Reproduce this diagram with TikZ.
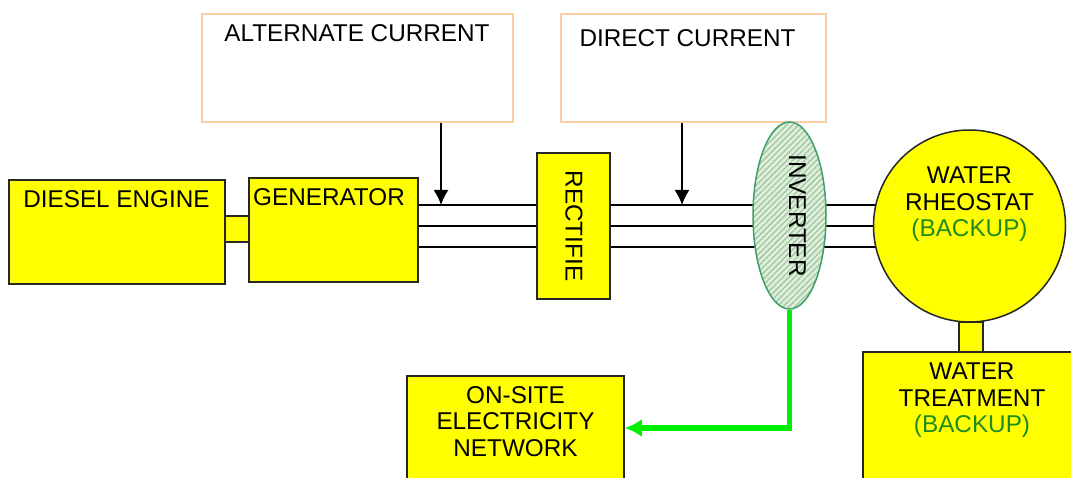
\documentclass[tikz,border=0pt]{standalone}
\usepackage{fontspec}
\setmainfont{Liberation Sans}
\usetikzlibrary{arrows.meta, positioning, calc, shapes.geometric, patterns.meta, backgrounds}

\definecolor{boxyellow}{HTML}{FFFF00}
\definecolor{peach}{HTML}{FBCFA6}
\definecolor{backupgreen}{HTML}{1E8C1E}
\definecolor{invgreen}{HTML}{3F9E6E}
\definecolor{invfill}{HTML}{D8F2D4}
\definecolor{hatchgray}{HTML}{A8B8A8}
\definecolor{linkgreen}{HTML}{00F000}

\tikzset{
    unit/.style={draw=black!85, line width=1.5pt, fill=boxyellow, inner sep=0pt},
    infobox/.style={draw=peach, line width=1.5pt, inner sep=0pt},
    lbl/.style={font=\fontsize{24.3}{26.5}\selectfont, align=center, inner sep=0pt},
    wire/.style={black, line width=1.5pt},
}

\begin{document}
\begin{tikzpicture}[x=1pt, y=-1pt, >={Latex[length=15pt, width=15pt]}]
    \useasboundingbox (0, 0) rectangle (1071, 478);

    % caixas de legenda
    \node[infobox, minimum width=311, minimum height=108] (acbox) at (357.5, 68) {};
    \node[infobox, minimum width=265, minimum height=108] (dcbox) at (693.5, 68) {};
    \node[lbl] (actext) at (357, 33) {ALTERNATE CURRENT};
    \node[lbl] (dctext) at (687.5, 38.5) {DIRECT CURRENT};

    % grupo diesel
    \node[unit, minimum width=24, minimum height=26] (shaft) at (237, 229) {};
    \node[unit, minimum width=216, minimum height=104] (diesel) at (117, 232) {};
    \node[unit, minimum width=169, minimum height=104] (gen) at (333.5, 230) {};
    \node[lbl] (dieseltext) at (116.5, 199) {DIESEL ENGINE};
    \node[lbl] (gentext) at (329, 197) {GENERATOR};

    \node[unit, minimum width=73, minimum height=146] (rect) at (573.5, 226) {};
    \node[lbl, rotate=-90] (recttext) at (574, 226) {RECTIFIE};

    \node[ellipse, draw=invgreen, line width=1.5pt, inner sep=0pt,
          minimum width=73, minimum height=187,
          preaction={fill=invfill},
          pattern={Lines[angle=45, distance=4.2pt, line width=1.1pt]}, pattern color=hatchgray]
          (inv) at (789.5, 215.5) {};
    \node[lbl, rotate=-90] (invtext) at (797.5, 215.5) {INVERTER};

    % rheostato e tratamento
    \node[unit, minimum width=24, minimum height=30] (shaft2) at (971, 337) {};
    \node[unit, circle, minimum size=192] (rheo) at (969.5, 226) {};
    \node[lbl, anchor=north] (rheotext) at (969.5, 167)
        {WATER\\RHEOSTAT\\\textcolor{backupgreen}{(BACKUP)}};
    \node[unit, minimum width=222, minimum height=148] (treat) at (974, 426) {};
    \node[lbl, anchor=north] (treattext) at (972, 363)
        {WATER\\TREATMENT\\\textcolor{backupgreen}{(BACKUP)}};

    \node[unit, minimum width=217, minimum height=124] (onsite) at (515.5, 438) {};
    \node[lbl, anchor=north] (onsitetext) at (515.5, 386)
        {ON-SITE\\ELECTRICITY\\NETWORK};

    % tres fases
    \begin{scope}[on background layer]
        \foreach \i/\w in {1/205, 2/226, 3/247} {
            \coordinate (w\i) at (0, \w);
            \draw[wire] (gen.east |- w\i) -- (rheo.center |- w\i);
        }
    \end{scope}

    \coordinate (acdrop) at (441, 205);
    \coordinate (dcdrop) at (682, 205);
    \draw[wire, ->] (acbox.south -| acdrop) -- (acdrop);
    \draw[wire, ->] (dcbox.south -| dcdrop) -- (dcdrop);

    \coordinate (feed) at ($(onsite.east) + (0, -10)$);
    \draw[linkgreen, line width=5.5pt, -{Latex[length=17pt, width=18pt]}] (inv.south) |- (feed);

\end{tikzpicture}
\end{document}
